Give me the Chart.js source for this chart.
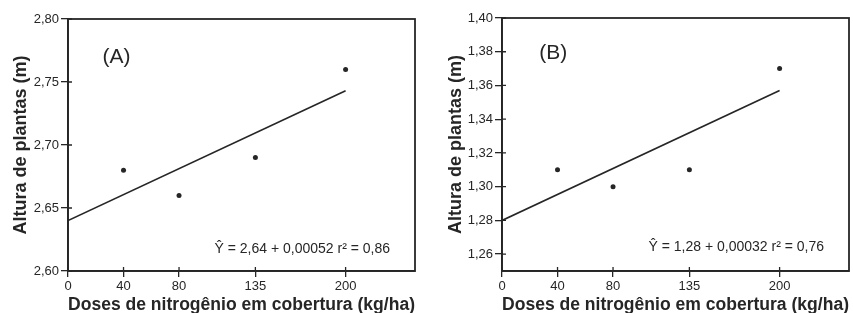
<!DOCTYPE html>
<html lang="pt">
  <head>
    <meta charset="UTF-8" />
    <title>Altura de plantas x doses de nitrogênio</title>
    <style>
      body {
        margin: 0;
        background: #fff;
        width: 853px;
        height: 313px;
        overflow: hidden;
        display: flex;
      }
      .panel {
        position: relative;
        height: 313px;
      }
      #panelA { width: 423px; }
      #panelB { width: 430px; }
    </style>
  </head>
  <body>
    <div class="panel" id="panelA"><canvas id="chartA"></canvas></div>
    <div class="panel" id="panelB"><canvas id="chartB"></canvas></div>
    <script src="https://cdn.jsdelivr.net/npm/chart.js@4"></script>
    <script>
      // doses de N (kg/ha) e alturas
      const doses = [40, 80, 135, 200];
      const xTicks = [0, 40, 80, 135, 200];
      const alturaA = [2.68, 2.66, 2.69, 2.76];
      const alturaB = [1.31, 1.30, 1.31, 1.37];
      // reta ajustada (extremos em x = 0 e x = 200)
      const fitX = [0, 200];
      const fitA = [2.64, 2.743];
      const fitB = [1.28, 1.357];
      const yTicksA = [2.6, 2.65, 2.7, 2.75, 2.8];
      const yTicksB = [1.26, 1.28, 1.3, 1.32, 1.34, 1.36, 1.38, 1.4];

      const ink = "#262626";
      const family = "Arial, 'Liberation Sans', sans-serif";

      // caixa do gráfico + pequenos traços internos + textos
      const framePlugin = {
        id: "frame",
        afterDraw(chart, args, opts) {
          const { ctx, chartArea: a, scales } = chart;
          ctx.save();
          ctx.strokeStyle = ink;
          ctx.lineWidth = 1.8;
          ctx.strokeRect(a.left, a.top, a.right - a.left, a.bottom - a.top);
          ctx.lineWidth = 1.3;
          ctx.beginPath();
          scales.x.ticks.forEach((t) => {
            const px = scales.x.getPixelForValue(t.value);
            ctx.moveTo(px, a.bottom);
            ctx.lineTo(px, a.bottom - 4);
          });
          scales.y.ticks.forEach((t) => {
            const py = scales.y.getPixelForValue(t.value);
            ctx.moveTo(a.left, py);
            ctx.lineTo(a.left + 4, py);
          });
          ctx.stroke();

          ctx.fillStyle = ink;
          ctx.textBaseline = "middle";
          ctx.font = "21px " + family;
          ctx.textAlign = "center";
          ctx.fillText(
            opts.tag,
            scales.x.getPixelForValue(opts.tagAt[0]),
            scales.y.getPixelForValue(opts.tagAt[1])
          );
          ctx.font = "14px " + family;
          ctx.textAlign = "right";
          ctx.fillText(
            opts.eq,
            scales.x.getPixelForValue(opts.eqAt[0]),
            scales.y.getPixelForValue(opts.eqAt[1])
          );
          ctx.restore();
        },
      };

      function makeChart(id, values, fit, yMin, yMax, yTicks, pad, yWidth, frame) {
        return new Chart(document.getElementById(id), {
          type: "scatter",
          data: {
            datasets: [
              {
                data: doses.map((d, i) => ({ x: d, y: values[i] })),
                pointRadius: 2.5,
                pointBackgroundColor: ink,
                pointBorderWidth: 0,
              },
              {
                type: "line",
                data: fitX.map((d, i) => ({ x: d, y: fit[i] })),
                borderColor: ink,
                borderWidth: 1.7,
                pointRadius: 0,
                fill: false,
              },
            ],
          },
          options: {
            responsive: true,
            maintainAspectRatio: false,
            animation: false,
            layout: { padding: pad },
            plugins: {
              legend: { display: false },
              tooltip: { enabled: false },
              frame: frame,
            },
            scales: {
              x: {
                type: "linear",
                min: 0,
                max: 250,
                afterBuildTicks: (s) => {
                  s.ticks = xTicks.map((v) => ({ value: v }));
                },
                afterFit: (s) => {
                  s.height = 42;
                },
                border: { color: ink, width: 1.8 },
                grid: {
                  drawOnChartArea: false,
                  drawTicks: true,
                  tickLength: 6,
                  color: ink,
                  lineWidth: 1.3,
                },
                ticks: {
                  color: ink,
                  padding: 2,
                  maxRotation: 0,
                  font: { family: family, size: 13 },
                  callback: (v) => String(v),
                },
                title: {
                  display: true,
                  text: "Doses de nitrogênio em cobertura (kg/ha)",
                  color: ink,
                  padding: { top: -3, bottom: -3 },
                  font: { family: family, size: 18, weight: "bold" },
                },
              },
              y: {
                min: yMin,
                max: yMax,
                afterBuildTicks: (s) => {
                  s.ticks = yTicks.map((v) => ({ value: v }));
                },
                afterFit: (s) => {
                  s.width = yWidth;
                },
                border: { color: ink, width: 1.8 },
                grid: {
                  drawOnChartArea: false,
                  drawTicks: true,
                  tickLength: 7,
                  color: ink,
                  lineWidth: 1.3,
                },
                ticks: {
                  color: ink,
                  padding: 2,
                  font: { family: family, size: 13 },
                  callback: (v) => v.toFixed(2).replace(".", ","),
                },
                title: {
                  display: true,
                  text: "Altura de plantas (m)",
                  color: ink,
                  padding: { top: 0, bottom: 0 },
                  font: { family: family, size: 18, weight: "bold" },
                },
              },
            },
          },
          plugins: [framePlugin],
        });
      }

      makeChart("chartA", alturaA, fitA, 2.6, 2.8, yTicksA,
        { left: 10, right: 8, top: 19, bottom: 0 }, 58,
        { tag: "(A)", tagAt: [35, 2.77], eq: "Ŷ = 2,64 + 0,00052 r² = 0,86", eqAt: [232, 2.617] });

      makeChart("chartB", alturaB, fitB, 1.25, 1.4, yTicksB,
        { left: 22, right: 4, top: 18, bottom: 0 }, 57,
        { tag: "(B)", tagAt: [37, 1.379], eq: "Ŷ = 1,28 + 0,00032 r² = 0,76", eqAt: [232, 1.264] });
    </script>
  </body>
</html>
